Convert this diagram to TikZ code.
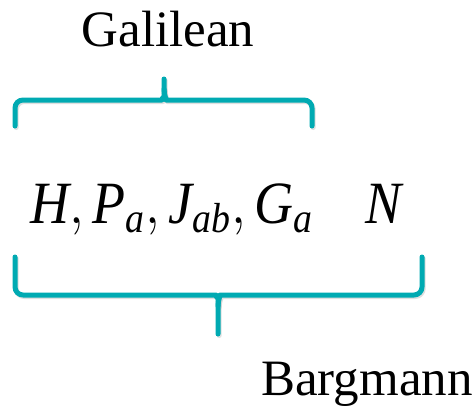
\RequirePackage{fix-cm}
\documentclass[tikz,border=0pt]{standalone}
\usepackage{fontspec}
\setmainfont{Liberation Serif}
\definecolor{braceteal}{RGB}{0,170,178}
\newcommand{\mi}[1]{\mathit{#1}}
\begin{document}
\begin{tikzpicture}[x=1pt,y=-1pt,
  brace/.style={draw=braceteal,line width=5pt,line cap=round,line join=round,rounded corners=8pt},
  braceshadow/.style={draw=black!25,line width=5pt,line cap=round,line join=round,rounded corners=8pt,opacity=0.5},
  label/.style={inner sep=0pt,anchor=base,font=\fontsize{51}{60}\selectfont},
  mathlbl/.style={inner sep=0pt,anchor=base west,font=\fontsize{60}{66}\selectfont}]
\useasboundingbox (0,0) rectangle (476,405);
% shadows
\begin{scope}[shift={(1.2,1.5)}]
\draw[braceshadow] (15,126) -- (15,100) -- (154,100) .. controls (161,100) and (164,96) .. (164,89) -- (164,79);
\draw[braceshadow] (164,89) .. controls (164,96) and (167,100) .. (174,100) -- (312,100) -- (312,126);
\draw[braceshadow] (15,257) -- (15,295) -- (208,295) .. controls (215,295) and (218,299) .. (218,306) -- (218,334);
\draw[braceshadow] (218,306) .. controls (218,299) and (221,295) .. (228,295) -- (422,295) -- (422,257);
\end{scope}
% top brace (Galilean)
\draw[brace] (15,126) -- (15,100) -- (154,100) .. controls (161,100) and (164,96) .. (164,89) -- (164,79);
\draw[brace] (164,89) .. controls (164,96) and (167,100) .. (174,100) -- (312,100) -- (312,126);
% bottom brace (Bargmann)
\draw[brace] (15,257) -- (15,295) -- (208,295) .. controls (215,295) and (218,299) .. (218,306) -- (218,334);
\draw[brace] (218,306) .. controls (218,299) and (221,295) .. (228,295) -- (422,295) -- (422,257);
% labels
\node[label] (gal) at (168,46) {Galilean};
\node[label] (barg) at (367,395) {Bargmann};
\node[mathlbl] (gens) at (30,223) {\scalebox{0.9}[1]{$\mi{H}, \mi{P}_{\mi{a}}, \mi{J}_{\mi{ab}}, \mi{G}_{\mi{a}}$}};
\node[mathlbl] (n) at (365,223) {\scalebox{0.9}[1]{$\mi{N}$}};
\end{tikzpicture}
\end{document}
